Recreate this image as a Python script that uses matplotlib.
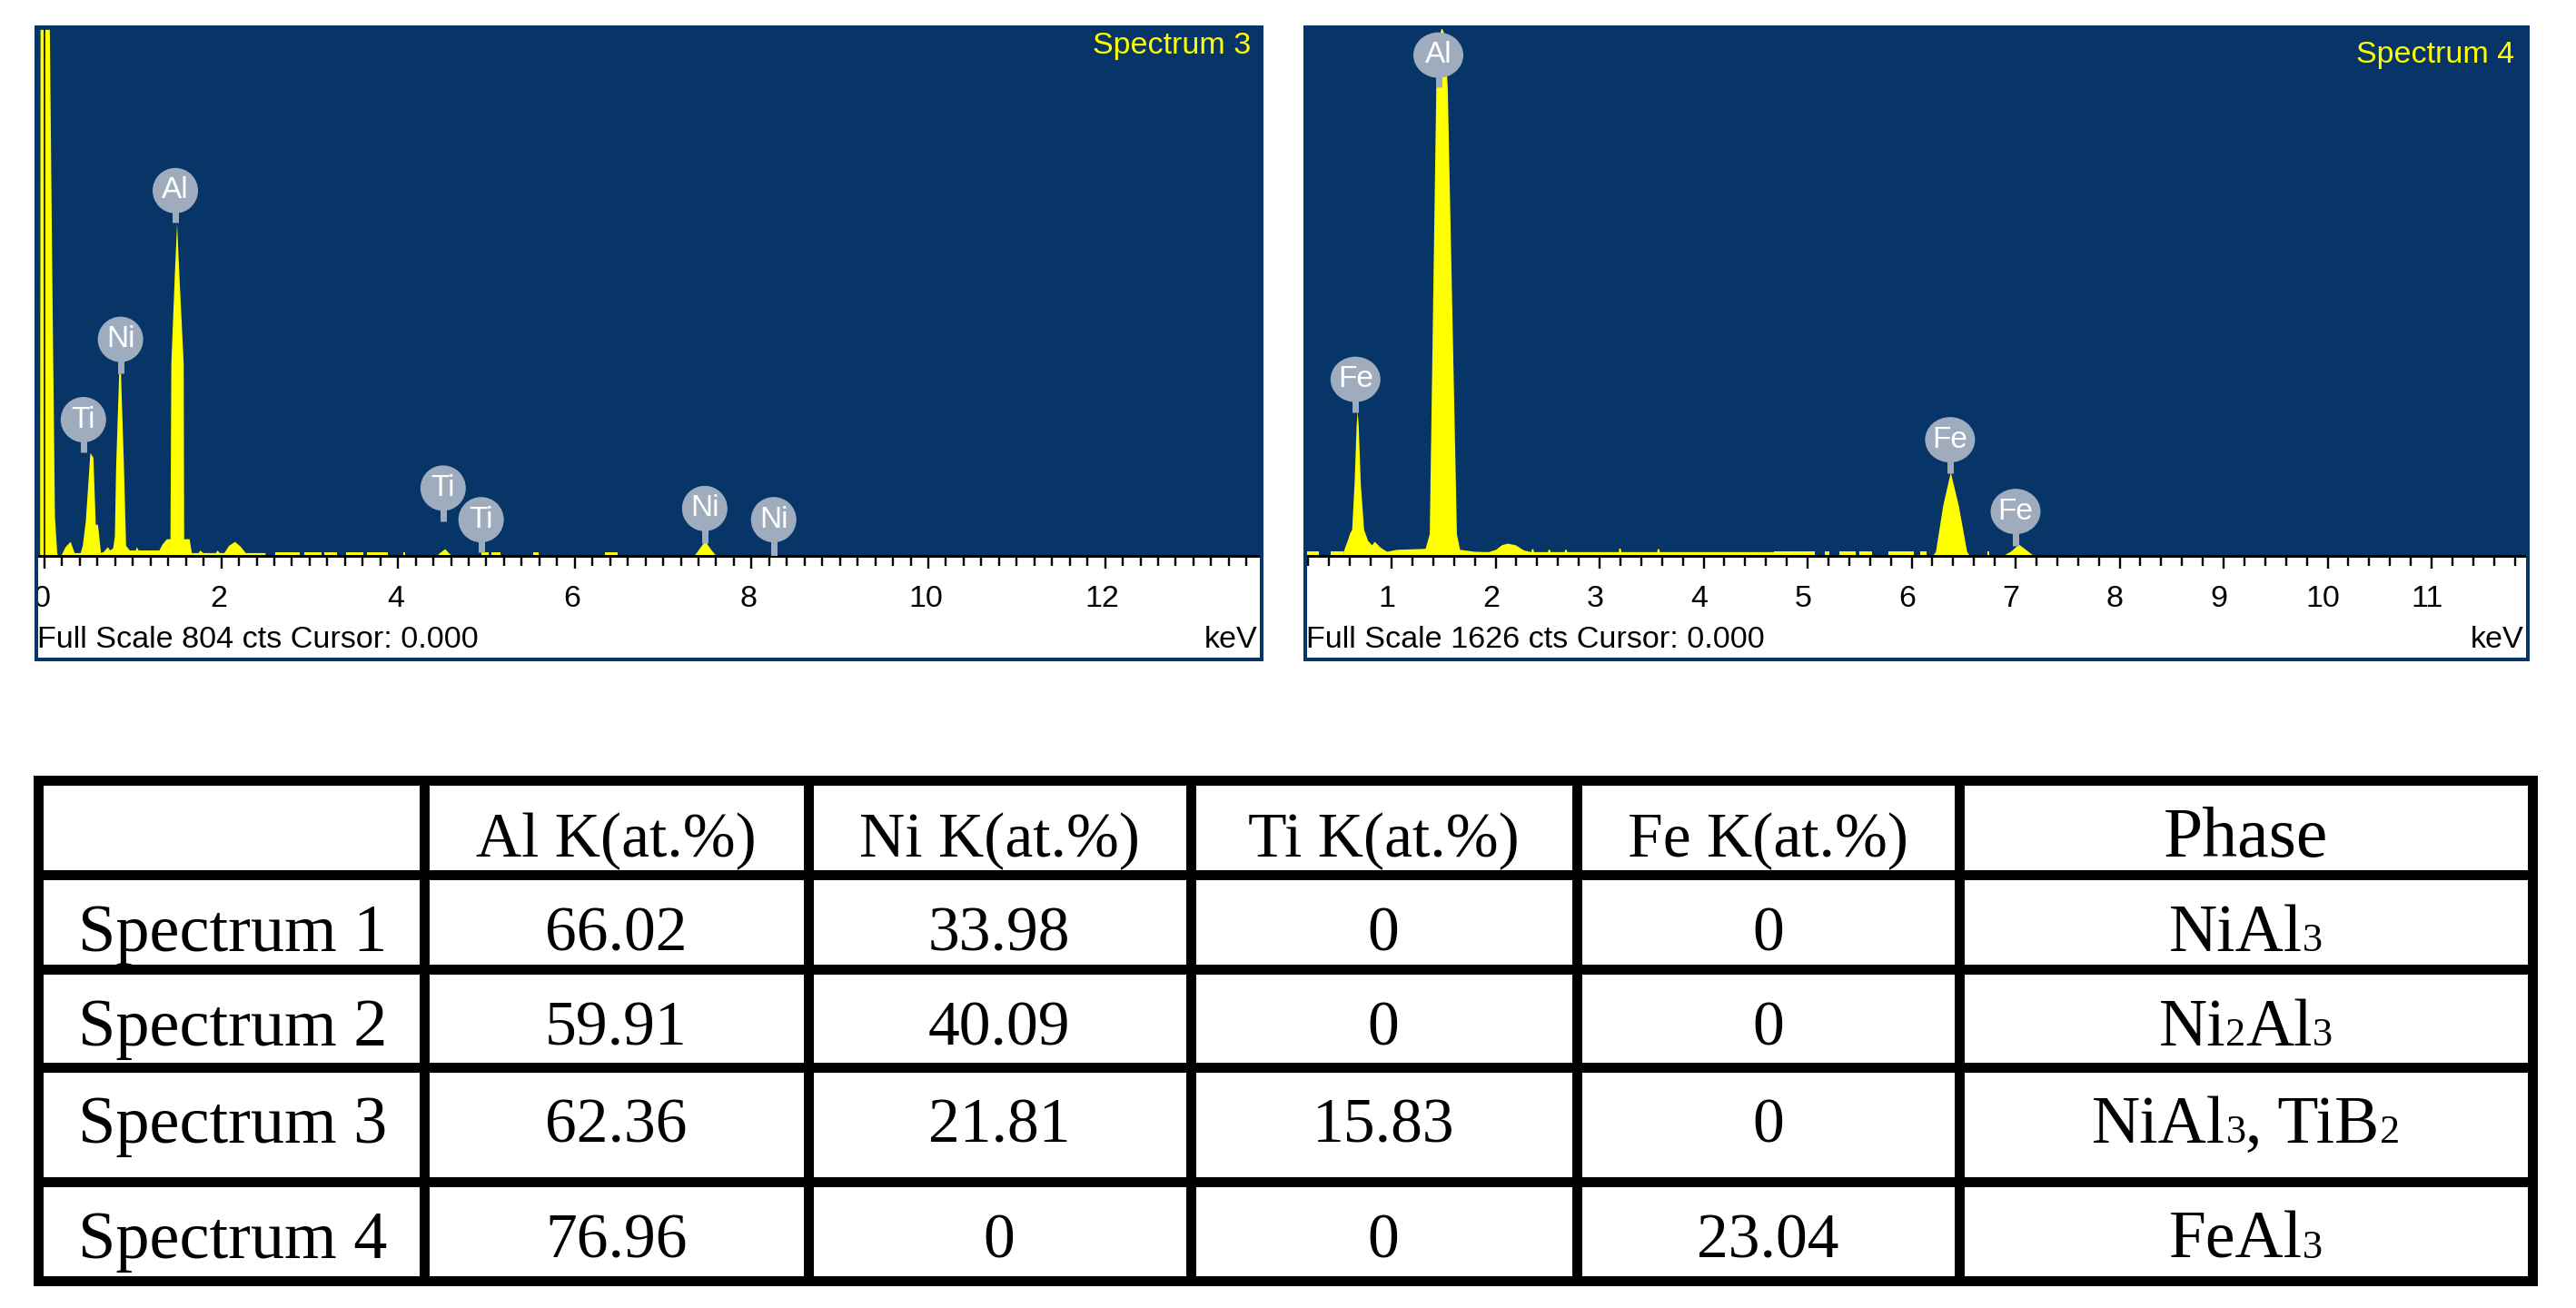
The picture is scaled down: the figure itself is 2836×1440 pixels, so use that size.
import matplotlib
matplotlib.use("Agg")
import matplotlib.pyplot as plt
import numpy as np
from matplotlib.patches import Ellipse, Rectangle
from matplotlib.transforms import Bbox, ScaledTranslation

W, H = 2836, 1440
NAVY = "#073567"
BUBBLE = "#9FACBE"
SANS = "Liberation Sans"
SERIF = "Liberation Serif"

plt.rcParams["font.family"] = SANS

# spectrum 3, energy in keV and counts
s3_kev = [-0.055, -0.05, 0.055, 0.085, 0.113, 0.14, 0.182, 0.233, 0.291, 0.336, 0.404, 0.428,
          0.462, 0.514, 0.548, 0.575, 0.6, 0.634, 0.668, 0.712, 0.737, 0.771, 0.791, 0.805,
          0.84, 0.86, 0.894, 0.918, 0.96, 1.028, 1.04, 1.06, 1.295, 1.33, 1.38, 1.42, 1.43,
          1.47, 1.495, 1.52, 1.57, 1.575, 1.637, 1.662, 1.74, 1.757, 1.791, 1.935, 1.953,
          1.98, 2.03, 2.083, 2.151, 2.22, 2.271, 2.494, 2.5]
s3_cts = [0, 800, 800, 400, 60, 3, 0, 14, 22, 5, 5, 16,
          53, 157, 150, 48, 48, 5, 7, 14, 9, 12, 30, 135,
          278, 278, 135, 16, 9, 9, 14, 9, 9, 18, 26, 26, 292,
          430, 506, 430, 292, 26, 26, 5, 5, 9, 5, 5, 9,
          5, 5, 16, 22, 14, 5, 5, 0]
s3_small_kev = [4.43, 4.47, 4.53, 4.57, 4.61, 7.345, 7.39, 7.47, 7.55, 7.6]
s3_small_cts = [0, 5, 11, 5, 0, 0, 8, 23, 8, 0]
s3_noise_start = [2.61, 2.94, 3.17, 3.41, 3.65, 4.06, 4.94, 5.06, 5.53, 6.34, 8.23]
s3_noise_end = [2.89, 3.13, 3.31, 3.61, 3.89, 4.08, 5.03, 5.16, 5.59, 6.48, 8.26]
s3_noise_cts = 5
s3_labels = ["Al", "Ni", "Ti", "Ti", "Ti", "Ni", "Ni"]
s3_label_kev = [1.48, 0.86, 0.44, 4.51, 4.94, 7.47, 8.25]
s3_label_mid = [555, 329, 207, 103, 55, 72, 55]
s3_label_tip = [506, 278, 157, 52, 5, 20, 0]

# spectrum 4
s4_kev = [0.534, 0.574, 0.597, 0.617, 0.64, 0.66, 0.669, 0.68, 0.70, 0.732, 0.771, 0.81, 0.834, 0.89,
          0.953, 1.047, 1.323, 1.363, 1.426, 1.46, 1.481, 1.505, 1.536, 1.624, 1.655, 1.8,
          1.93, 2.0, 2.057, 2.113, 2.19, 2.27, 2.34, 2.345, 2.36, 2.365, 2.5, 2.505, 2.52,
          2.525, 2.66, 2.665, 2.68, 2.685, 3.18, 3.185, 3.2, 3.205, 3.55, 3.555, 3.57, 3.575, 4.68]
s4_cts = [13, 47, 70, 81, 222, 400, 445, 400, 222, 81, 47, 34, 45, 27,
          14, 20, 23, 68, 1438, 1600, 1620, 1600, 1438, 68, 20, 14,
          13, 20, 34, 39, 34, 18, 13, 22, 22, 13, 13, 20, 20,
          13, 13, 20, 20, 13, 13, 24, 24, 13, 13, 22, 22, 13, 13]
s4_small_kev = [6.2, 6.23, 6.3, 6.373, 6.45, 6.53, 6.56, 6.87, 6.95, 7.03, 7.12, 7.176]
s4_small_cts = [0, 14, 155, 257, 155, 14, 0, 0, 14, 36, 14, 0]
s4_noise_start = [0.18, 0.415, 4.68, 5.166, 5.31, 5.5, 5.78, 6.08, 6.73]
s4_noise_end = [0.298, 0.534, 5.07, 5.21, 5.46, 5.62, 6.02, 6.14, 6.75]
s4_noise_cts = 13
s4_labels = ["Al", "Fe", "Fe", "Fe"]
s4_label_kev = [1.45, 0.653, 6.37, 7.0]
s4_label_mid = [1535, 541, 356, 136]
s4_label_tip = [1436, 440, 253, 32]

# table
col_names = ["Al K(at.%)", "Ni K(at.%)", "Ti K(at.%)", "Fe K(at.%)", "Phase"]
row_names = ["Spectrum 1", "Spectrum 2", "Spectrum 3", "Spectrum 4"]
al_k = ["66.02", "59.91", "62.36", "76.96"]
ni_k = ["33.98", "40.09", "21.81", "0"]
ti_k = ["0", "0", "15.83", "0"]
fe_k = ["0", "0", "0", "23.04"]
# digits in a formula are set small, on the baseline
phases = ["NiAl3", "Ni2Al3", "NiAl3, TiB2", "FeAl3"]

TABLE_X = [41.7, 467.4, 889.5, 1310.7, 1735.5, 2157, 2788]
TABLE_Y = [858.8, 962.8, 1067, 1175, 1301, 1409.5]
TABLE_BASE = [942.6, 1046.6, 1150.8, 1258, 1384.6]


def px_axes(fig, x0, y0, x1, y1):
    return fig.add_axes([x0 / W, 1 - y1 / H, (x1 - x0) / W, (y1 - y0) / H])


def spectrum_panel(fig, box, xlim, ymax, ticks, kev, cts, small_kev, small_cts,
                   noise_start, noise_end, noise_cts, labels, label_kev, label_mid, label_tip,
                   name, name_pos, footer, bubble_w, shift):
    x0, y0, x1, y1 = box
    ax = px_axes(fig, x0, y0, x1, y1 - 116)
    ax.set_facecolor(NAVY)
    ax.set_xlim(*xlim)
    ax.set_ylim(0, ymax)
    for side in ["top", "left", "right"]:
        ax.spines[side].set_visible(False)
    ax.spines["bottom"].set_linewidth(3 * 0.72)
    ax.spines["bottom"].set_color("black")

    px_x = (xlim[1] - xlim[0]) / (x1 - x0)
    px_y = ymax / (y1 - 116 - y0)
    ax.spines["bottom"].set_bounds(xlim[0] + 3 * px_x, xlim[1] - 4 * px_x)

    ax.fill_between(kev, 0, cts, color="#FFFF00", lw=0)
    ax.fill_between(small_kev, 0, small_cts, color="#FFFF00", lw=0)
    ax.bar(noise_start, noise_cts, np.array(noise_end) - np.array(noise_start),
           align="edge", color="#FFFF00", lw=0)

    # peak labels, round bubble with a stem down to the peak
    for el, e, mid, tip in zip(labels, label_kev, label_mid, label_tip):
        ax.plot([e, e], [tip, mid], color=BUBBLE, lw=7 * 0.72, solid_capstyle="butt", zorder=4)
        ax.add_patch(Ellipse((e, mid), bubble_w * px_x, 50 * px_y, color=BUBBLE, lw=0, zorder=4))
        ax.text(e, mid, el, color="white", fontsize=24, ha="center", va="center", zorder=5)

    ax.set_xticks(ticks[0])
    ax.set_xticks(ticks[1], minor=True)
    ax.set_yticks([])
    ax.tick_params(axis="x", which="major", length=14 * 0.72, width=2.4 * 0.72, pad=13,
                   labelsize=24.5, color="black")
    ax.tick_params(axis="x", which="minor", length=7 * 0.72, width=2.4 * 0.72, color="black")
    ax.set_xticklabels([str(t) for t in ticks[0]])
    for tick in ax.xaxis.get_minor_ticks():
        if abs(tick.get_loc() % 1) < 1e-6:
            tick.tick1line.set_markersize(11 * 0.72)
    off = ScaledTranslation(shift / 100, 0, fig.dpi_scale_trans)
    for lab in ax.get_xticklabels():
        lab.set_transform(lab.get_transform() + off)

    fig.text(name_pos[0] / W, 1 - name_pos[1] / H, name, color="#FFFF00", fontsize=24.5,
             ha="right", va="center", zorder=6)
    fig.text((x0 + 3) / W, 1 - 705 / H, footer, color="black", fontsize=24.6, ha="left", va="center", zorder=6)
    fig.text((x1 - 6) / W, 1 - 705 / H, "keV", color="black", fontsize=24.6, ha="right", va="center", zorder=6)
    fig.add_artist(Rectangle((x0 / W + 2 / W, 1 - (y1 - 2) / H), (x1 - x0 - 4) / W, (y1 - y0 - 4) / H,
                             transform=fig.transFigure, fill=False, ec=NAVY, lw=4 * 0.72, zorder=5))
    return ax


def formula_text(ax, xc, base, formula, size):
    # piecewise layout, mathtext subscripts are too big and drop too low
    pieces = []
    for ch in formula:
        small = ch.isdigit()
        if pieces and pieces[-1][1] == small:
            pieces[-1][0] += ch
        else:
            pieces.append([ch, small])
    renderer = ax.figure.canvas.get_renderer()
    items, total = [], 0
    for txt, small in pieces:
        fs = size * 0.6 if small else size
        t = ax.text(0, base, txt, family=SERIF, fontsize=fs, ha="left", va="baseline")
        # trailing spaces count for the width, measure between two bars
        probe = ax.text(0, base, "|" + txt + "|", family=SERIF, fontsize=fs)
        bars = ax.text(0, base, "||", family=SERIF, fontsize=fs)
        w = probe.get_window_extent(renderer).width - bars.get_window_extent(renderer).width
        probe.remove()
        bars.remove()
        items.append((t, w))
        total += w
    x = xc - total / 2
    for t, w in items:
        t.set_x(x)
        x += w


fig = plt.figure(figsize=(W / 100, H / 100), dpi=100, facecolor="white")

ticks3 = (list(range(0, 13, 2)), [round(v, 1) for v in np.arange(0, 13.7, 0.2)])
ax3 = spectrum_panel(fig, (38, 28, 1391, 728), (-11 / 97.3, 1342 / 97.3), 806, ticks3,
                     s3_kev, s3_cts, s3_small_kev, s3_small_cts,
                     s3_noise_start, s3_noise_end, s3_noise_cts,
                     s3_labels, s3_label_kev, s3_label_mid, s3_label_tip,
                     "Spectrum 3", (1377, 50), "Full Scale 804 cts Cursor: 0.000", 50, -3)
ax3.axvline(0, color="black", lw=1.6 * 0.72, zorder=3)
lab0 = ax3.get_xticklabels()[0]
lab0.set_clip_box(Bbox([[41, 0], [W, H]]))
lab0.set_clip_on(True)

ticks4 = (list(range(1, 12)), [round(v, 1) for v in np.arange(0.2, 11.9, 0.2)])
ax4 = spectrum_panel(fig, (1435, 28, 2785, 728), (1 - 97 / 114.5, 1 + 1253 / 114.5), 1626, ticks4,
                     s4_kev, s4_cts, s4_small_kev, s4_small_cts,
                     s4_noise_start, s4_noise_end, s4_noise_cts,
                     s4_labels, s4_label_kev, s4_label_mid, s4_label_tip,
                     "Spectrum 4", (2768, 60), "Full Scale 1626 cts Cursor: 0.000", 55, -5)

# table, drawn on a full figure axes in pixels
tb = fig.add_axes([0, 0, 1, 1], zorder=-1)
tb.set_xlim(0, W)
tb.set_ylim(H, 0)
tb.axis("off")
for x in TABLE_X:
    tb.plot([x, x], [TABLE_Y[0], TABLE_Y[-1]], color="black", lw=11 * 0.72, solid_capstyle="projecting")
for y in TABLE_Y:
    tb.plot([TABLE_X[0], TABLE_X[-1]], [y, y], color="black", lw=11 * 0.72, solid_capstyle="projecting")

centers = [(TABLE_X[i] + TABLE_X[i + 1]) / 2 for i in range(1, 6)]
for c, name in enumerate(col_names):
    tb.text(centers[c], TABLE_BASE[0], name, family=SERIF, fontsize=56 if name == "Phase" else 50,
            ha="center", va="baseline")
for r in range(4):
    base = TABLE_BASE[r + 1]
    tb.text(86, base, row_names[r], family=SERIF, fontsize=53.5, ha="left", va="baseline")
    for c, vals in enumerate([al_k, ni_k, ti_k, fe_k]):
        tb.text(centers[c], base, vals[r], family=SERIF, fontsize=50, ha="center", va="baseline")
    formula_text(tb, centers[4], base, phases[r], 53)

fig.savefig("out.png", dpi=100, facecolor="white")
